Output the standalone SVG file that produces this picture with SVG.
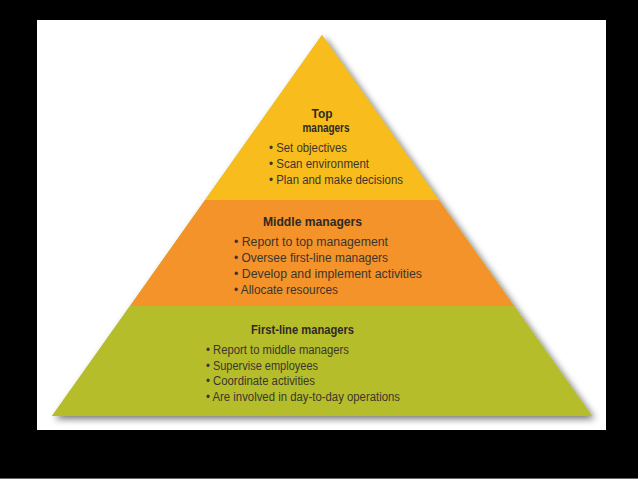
<svg xmlns="http://www.w3.org/2000/svg" width="638" height="479" viewBox="0 0 638 479">
<defs>
<filter id="shadow" x="-10%" y="-10%" width="120%" height="125%">
<feGaussianBlur in="SourceAlpha" stdDeviation="3.5"/>
<feOffset dx="3" dy="3" result="b"/>
<feComponentTransfer><feFuncA type="linear" slope="0.55"/></feComponentTransfer>
<feMerge><feMergeNode/><feMergeNode in="SourceGraphic"/></feMerge>
</filter>
</defs>
<style>
.h{font-family:"Liberation Sans",Arial,sans-serif;font-weight:bold;font-size:12px;fill:#2e2a22}
.t{font-family:"Liberation Sans",Arial,sans-serif;font-size:12px;fill:#3b362c}
</style>
<rect x="0" y="0" width="638" height="479" fill="#000"/>
<rect x="37" y="20" width="569" height="410" fill="#fff"/>
<line x1="0" y1="478.5" x2="638" y2="478.5" stroke="#666" stroke-width="1"/>
<polygon points="322,35 592,416 52,416" fill="#b5bd2a" filter="url(#shadow)"/>
<g id="top">
<polygon points="322,35 438.9,200 205.1,200" fill="#f8bd1c"/>
<text class="h" x="322" y="118" text-anchor="middle" textLength="21" lengthAdjust="spacingAndGlyphs">Top</text>
<text class="h" x="326" y="132" text-anchor="middle" textLength="47" lengthAdjust="spacingAndGlyphs">managers</text>
<text class="t" x="269" y="152" textLength="78" lengthAdjust="spacingAndGlyphs">• Set objectives</text>
<text class="t" x="269" y="168" textLength="100" lengthAdjust="spacingAndGlyphs">• Scan environment</text>
<text class="t" x="269" y="184" textLength="134" lengthAdjust="spacingAndGlyphs">• Plan and make decisions</text>
</g>
<g id="middle">
<polygon points="205.1,200 438.9,200 514,306 130,306" fill="#f3932a"/>
<text class="h" x="263" y="226" textLength="99" lengthAdjust="spacingAndGlyphs">Middle managers</text>
<text class="t" x="234" y="246" textLength="154" lengthAdjust="spacingAndGlyphs">• Report to top management</text>
<text class="t" x="234" y="262" textLength="154" lengthAdjust="spacingAndGlyphs">• Oversee first-line managers</text>
<text class="t" x="234" y="278" textLength="188" lengthAdjust="spacingAndGlyphs">• Develop and implement activities</text>
<text class="t" x="234" y="294" textLength="104" lengthAdjust="spacingAndGlyphs">• Allocate resources</text>
</g>
<g id="first-line">
<polygon points="130,306 514,306 592,416 52,416" fill="#b5bd2a"/>
<text class="h" x="251" y="334" textLength="103" lengthAdjust="spacingAndGlyphs">First-line managers</text>
<text class="t" x="206" y="354" textLength="143" lengthAdjust="spacingAndGlyphs">• Report to middle managers</text>
<text class="t" x="206" y="370" textLength="112" lengthAdjust="spacingAndGlyphs">• Supervise employees</text>
<text class="t" x="206" y="385" textLength="109" lengthAdjust="spacingAndGlyphs">• Coordinate activities</text>
<text class="t" x="206" y="401" textLength="194" lengthAdjust="spacingAndGlyphs">• Are involved in day-to-day operations</text>
</g>
<g id="connectors"/>
</svg>
